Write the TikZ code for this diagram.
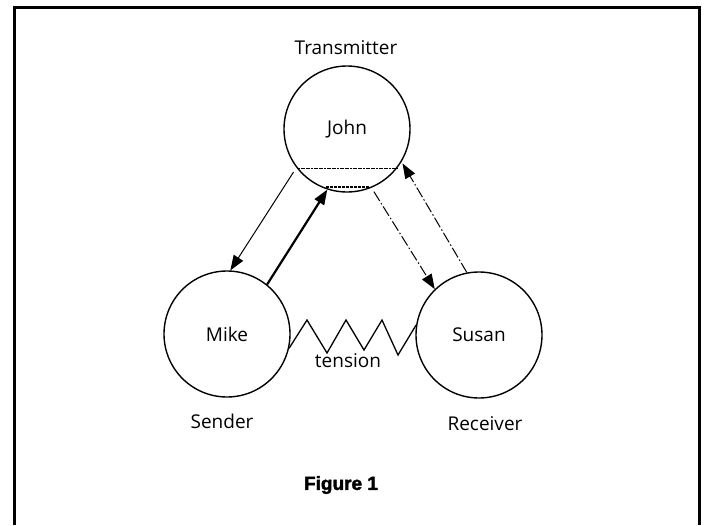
\documentclass[tikz,border=0pt]{standalone}
\usepackage{fontspec}
\setmainfont{Open Sans}
\newfontfamily\figfont[BoldFont={Liberation Sans Bold},BoldFeatures={FakeBold=2}]{Liberation Sans}
\usetikzlibrary{arrows.meta}
\begin{document}
\begin{tikzpicture}[x=1pt,y=-1pt,
  person/.style={draw,circle,line width=1.4pt,minimum size=126pt,inner sep=0pt,font=\fontsize{19}{22}\selectfont},
  lbl/.style={font=\fontsize{19}{22}\selectfont,inner sep=0pt},
  tip/.style={-{Triangle[length=15pt,width=11pt]}},
  thinarrow/.style={tip,line width=1pt},
  thickarrow/.style={tip,line width=2.2pt},
  dasharrow/.style={tip,line width=1pt,dash pattern=on 11pt off 2.5pt on 1.5pt off 2.5pt},
  frame/.style={line width=3pt}]
\useasboundingbox (0,0) rectangle (709,525);
\fill[white] (0,0) rectangle (709,525);
% frame
\draw[frame] (14,525) -- (14,7) -- (699,7) -- (699,525);
% people
\node[person] (john) at (347,129) {John};
\node[person] (mike) at (227,334) {Mike};
\node[person] (susan) at (479,335) {Susan};
% labels
\node[lbl] (tr) at (346,48) {Transmitter};
\node[lbl] (se) at (222,421) {Sender};
\node[lbl] (re) at (485,424) {Receiver};
\node[lbl] (te) at (348,361) {tension};
\node[inner sep=0pt,font=\figfont\bfseries\fontsize{19}{22}\selectfont] (fig) at (341,485) {Figure 1};
% chords inside John
\coordinate (c1a) at (298,168);
\coordinate (c1b) at (397,168);
\coordinate (c2a) at (326,187);
\coordinate (c2b) at (370,187);
\draw[line width=1pt,dash pattern=on 2pt off 0.6pt] (c1a) -- (c1b);
\draw[line width=1.3pt,dash pattern=on 3pt off 1pt] (c2a) -- (c2b);
% arrows
\draw[thinarrow] ([shift={(-4,3)}]john.219.7) -- (mike.87);
\draw[thickarrow] (mike.51) -- (john.252);
\draw[dasharrow] ([shift={(2,4)}]john.293) -- (susan.134);
\draw[dasharrow] (susan.101) -- ([shift={(4,-3)}]john.324.5);
% zigzag
\coordinate (z1) at (307,320);
\coordinate (z2) at (327,353);
\coordinate (z3) at (346,320);
\coordinate (z4) at (364,350);
\coordinate (z5) at (382,320);
\coordinate (z6) at (398,355);
\draw[line width=1.3pt,line join=miter] (mike.-13) -- (z1) -- (z2) -- (z3) -- (z4) -- (z5) -- (z6) -- (susan.171);
\end{tikzpicture}
\end{document}
